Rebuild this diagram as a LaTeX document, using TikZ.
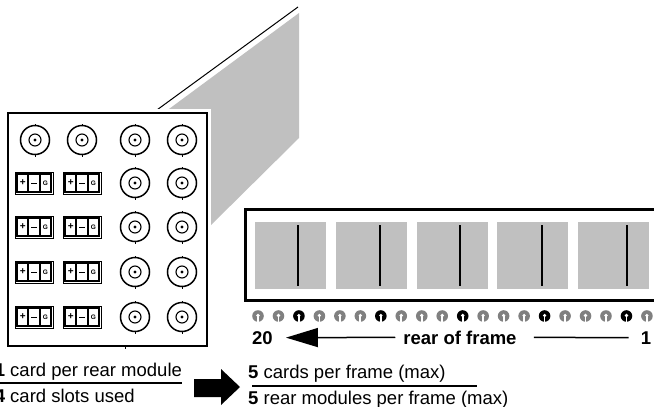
\documentclass[tikz,border=0pt]{standalone}
\usepackage{fontspec}
\setmainfont{Liberation Sans}
\usetikzlibrary{arrows.meta}
\definecolor{panelgray}{HTML}{C0C0C0}
\definecolor{icongray}{HTML}{808080}
\tikzset{
  lbl/.style={inner sep=0pt, font=\fontsize{18.5}{21}\selectfont},
  lblb/.style={inner sep=0pt, font=\fontsize{18.5}{21}\selectfont\bfseries},
  bncpic/.pic={
    \draw[line width=1.5pt] (0,0) circle (14.5pt);
    \draw[line width=1.1pt] (0,0) circle (6pt);
    \fill (0,0) circle (1.7pt);
    \draw[line width=1pt] (0,-14.5) -- (0,-16.5) (0,14.5) -- (0,16.5);
  },
  tbpic/.pic={
    \draw[line width=0.7pt] (-19,-11) rectangle (19,11);
    \draw[line width=1.3pt] (-17,-9) rectangle (17,9);
    \draw[line width=1.7pt] (-5.7,-9) -- (-5.7,9) (5.7,-9) -- (5.7,9);
    \node[inner sep=0pt, font=\fontsize{10}{10}\selectfont\bfseries] (plus) at (-11.3,0) {+};
    \draw[line width=1pt] (-3,0) -- (3,0);
    \node[inner sep=0pt, font=\fontsize{6.5}{6.5}\selectfont\bfseries] (gnd) at (11.3,0) {G};
  },
  iconpic/.pic={
    \fill (0,0) circle (5.8pt);
    \fill[white] (0,-0.5) circle (1.8pt);
    \fill[white] (-0.9,-0.5) rectangle (0.9,5.9);
  }
}
\begin{document}
\begin{tikzpicture}[x=1pt,y=-1pt]
\useasboundingbox (0,0) rectangle (654,407);
% grey side of the frame
\fill[panelgray] (150,123) -- (299,13) -- (299,138) -- (208,228) -- (150,228) -- cycle;
\draw[line width=1pt] (150,115) -- (298,7);
% rear module
\fill[white] (4,109) rectangle (211,350);
\draw[line width=1.5pt] (8,113) rectangle (207,346);
\draw[line width=1pt] (125,346) -- (125,349);
\foreach \c/\x in {1/35,2/82,3/135,4/182} {
  \pic at (\x,140) {bncpic};
}
\foreach \r/\y in {2/183,3/227,4/272,5/317} {
  \pic at (34,\y) {tbpic};
  \pic at (82,\y) {tbpic};
  \pic at (135,\y) {bncpic};
  \pic at (182,\y) {bncpic};
}
% rear of frame
\draw[line width=3pt] (245,209) rectangle (670,300);
\foreach \i in {0,...,4} {
  \fill[panelgray] ({255+80.75*\i},222) rectangle ++(71,67);
}
\foreach \x in {298,380,460,542,627} {
  \draw[line width=2pt] (\x,225) -- (\x,286);
}
\foreach \k in {0,...,19} {
  \pgfmathtruncatemacro{\m}{mod(\k,4)}
  \ifnum\m=2
    \pic[black] at ({258+20.47*\k},316) {iconpic};
  \else
    \pic[icongray] at ({258+20.47*\k},316) {iconpic};
  \fi
}
\node[lblb, anchor=base west] (n20) at (252,344) {20};
\node[lblb, anchor=base] (rof) at (460,344) {rear of frame};
\node[lblb, anchor=base] (n1) at (646,344) {1};
\draw[line width=1.5pt, -{Triangle[length=32pt,width=19pt]}] ([xshift=-8pt]rof.west) -- ([xshift=13pt]n20.east);
\draw[line width=1.5pt] ([xshift=17pt]rof.east) -- ([xshift=-12pt]n1.west);
% texts
\node[lbl, anchor=base west] (t1) at (-5.4,376) {\textbf{1} card per rear module};
\draw[line width=1.5pt] (0,383) -- (182,383);
\node[lbl, anchor=base west] (t2) at (-5.4,402) {\textbf{4} card slots used};
\fill (194,379) -- (221,379) -- (221,369) -- (240,387) -- (221,405) -- (221,397) -- (194,397) -- cycle;
\node[lbl, anchor=base west] (t3) at (248,378) {\textbf{5} cards per frame (max)};
\draw[line width=1.5pt] (252,386) -- (477,386);
\node[lbl, anchor=base west] (t4) at (248,404) {\textbf{5} rear modules per frame (max)};
\end{tikzpicture}
\end{document}
